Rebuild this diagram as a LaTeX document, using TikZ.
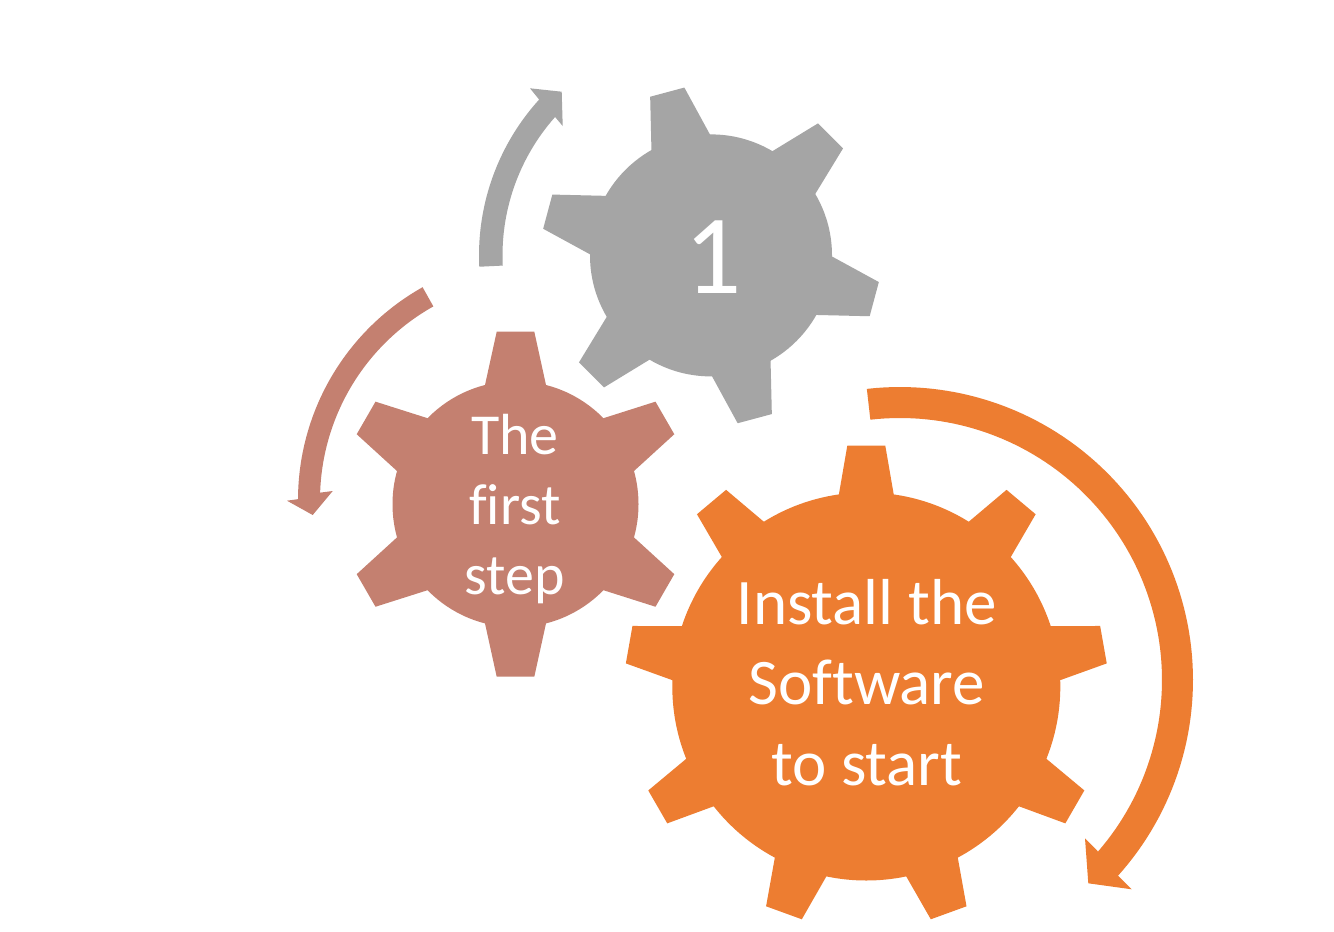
\documentclass[tikz,border=0pt]{standalone}
\usepackage{fontspec}
\setmainfont{Carlito}[Ligatures=NoCommon]
\definecolor{cgray}{HTML}{A5A5A5}
\definecolor{corange}{HTML}{ED7D31}
\definecolor{crose}{HTML}{C48070}
% #1 cx, #2 cy, #3 body radius, #4 outer radius, #5 outer half width,
% #6 base axial distance, #7 base half width, #8 first tooth angle, #9 teeth
\newcommand\mygear[9]{%
  \fill (#1,#2) circle[radius=#3pt];
  \pgfmathsetmacro\gwthree{#7+(#7-#5)/(#4-#6)*20}%
  \pgfmathsetmacro\grin{#6-20}%
  \foreach \k in {1,...,#9}{%
    \pgfmathsetmacro\gang{#8+360*(\k-1)/#9}%
    \begin{scope}[shift={(#1,#2)},rotate=-\gang]
      \fill (\grin,-\gwthree) -- (#4,-#5) -- (#4,#5) -- (\grin,\gwthree) -- cycle;
    \end{scope}
  }%
}
\tikzset{
  geartext/.style={text=white, inner sep=0pt, anchor=base, align=center},
  arc samples/.style={samples=90, variable=\t}
}
\begin{document}
\begin{tikzpicture}[x=1pt,y=-1pt]
\useasboundingbox[fill=white] (0,0) rectangle (1334,932);

% gears
\begin{scope}[fill=cgray]
  \mygear{711}{255.4}{121}{169}{17.7}{117}{30.3}{-105}{6}
\end{scope}
\begin{scope}[fill=crose]
  \mygear{515.5}{504.2}{123}{172.5}{18.8}{119.2}{30.5}{-90}{6}
\end{scope}
\begin{scope}[fill=corange]
  \mygear{866.3}{686.5}{194}{240.8}{19}{192.5}{27.35}{-90}{9}
\end{scope}

% circular arrows
\fill[cgray] plot[domain=177.2:222.2, arc samples] ({711+232*cos(\t)},{255.4+232*sin(\t)})
  -- (530,88.3) -- (561.7,91.7) -- (562.7,126)
  -- plot[domain=221.6:177.2, arc samples] ({711+208.5*cos(\t)},{255.4+208.5*sin(\t)}) -- cycle;

\fill[crose] plot[domain=240.7:180.2, arc samples] ({542+244*cos(\t)},{500+244*sin(\t)})
  -- (287,500.7) -- (312.7,515) -- (332.7,491)
  -- plot[domain=181.9:240.7, arc samples] ({542+222*cos(\t)},{500+222*sin(\t)}) -- cycle;

\fill[corange] plot[domain=-96.5:41.9, arc samples] ({900+293*cos(\t)},{680+293*sin(\t)})
  -- (1131.7,889.3) -- (1088.3,883.3) -- (1085,838.3)
  -- plot[domain=40.9:-96.5, arc samples] ({900+262*cos(\t)},{680+262*sin(\t)}) -- cycle;

% texts
\node[geartext, font=\fontsize{113}{136}\selectfont] (one) at (713,293.3) {1};
\node[geartext] (first) at (515,454.3)
  {\fontsize{58}{70}\selectfont\begin{tabular}[t]{@{}c@{}}The\\first\\step\end{tabular}};
\node[geartext] (install) at (866.7,624.3)
  {\fontsize{65}{80.5}\selectfont\begin{tabular}[t]{@{}c@{}}Install the\\Software\\to start\end{tabular}};
\end{tikzpicture}
\end{document}
